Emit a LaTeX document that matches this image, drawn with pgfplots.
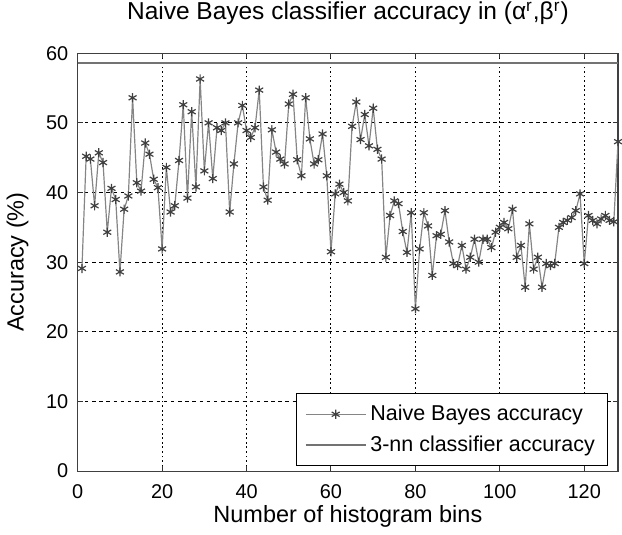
\documentclass[border=0pt]{standalone}
\usepackage{fontspec}
\setmainfont{Liberation Sans}
\usepackage{pgfplots}
\pgfplotsset{compat=1.18}
\definecolor{dataline}{HTML}{858585}
\definecolor{markc}{HTML}{404040}
\definecolor{knnline}{HTML}{737373}
\begin{document}
\begin{tikzpicture}
\begin{axis}[
  scale only axis,
  width=271.5pt, height=210pt,
  xmin=0, xmax=128, ymin=0, ymax=60,
  xtick={0,20,...,120}, ytick={0,10,...,60},
  tick align=inside, major tick length=2.5pt,
  tick style={black!80, line width=0.5pt},
  axis line style={black!75, line width=0.6pt},
  xmajorgrids, ymajorgrids,
  x grid style={black, line width=0.5pt, dash pattern=on 0.9pt off 1.4pt},
  y grid style={black, line width=0.5pt, dash pattern=on 1.8pt off 1.8pt},
  /pgf/number format/assume math mode=true,
  ticklabel style={font=\fontsize{10}{12}\selectfont},
  xticklabel style={yshift=-3.3pt},
  yticklabel style={xshift=-1.2pt},
  xlabel={Number of histogram bins},
  ylabel={Accuracy (\%)},
  xlabel style={font=\fontsize{11.8}{14}\selectfont, yshift=3.5pt},
  ylabel style={font=\fontsize{11.8}{14}\selectfont, yshift=2pt},
  title={Naive Bayes classifier accuracy in (α\textsuperscript{r},β\textsuperscript{r})},
  title style={font=\fontsize{12.3}{14}\selectfont, inner sep=1pt, yshift=7pt},
  legend style={at={(0.982,0.012)}, anchor=south east, draw=black, line width=0.5pt,
    font=\fontsize{10.8}{13}\selectfont, inner xsep=4.5pt, inner ysep=3.8pt,
    row sep=2pt, fill=white},
  legend cell align=left,
  legend image code/.code={%
    \draw[mark repeat=2, mark phase=2] plot coordinates {(0pt,0pt) (15pt,0pt) (30pt,0pt)};},
]
\addplot[dataline, line width=0.6pt, mark=asterisk, mark size=2.3pt,
  mark options={markc, line width=0.6pt}] coordinates {
(1,29.1) (2,45.2) (3,44.8) (4,38.1) (5,45.7) (6,44.3) (7,34.3) (8,40.6) (9,39.0) (10,28.6)
(11,37.6) (12,39.5) (13,53.6) (14,41.4) (15,40.2) (16,47.1) (17,45.5) (18,41.9) (19,40.7) (20,31.9)
(21,43.6) (22,37.2) (23,38.1) (24,44.6) (25,52.6) (26,39.2) (27,51.6) (28,40.8) (29,56.3) (30,43.1)
(31,50.0) (32,42.0) (33,49.3) (34,48.9) (35,50.0) (36,37.2) (37,44.1) (38,50.0) (39,52.5) (40,48.9)
(41,47.9) (42,49.3) (43,54.7) (44,40.8) (45,38.9) (46,49.0) (47,45.8) (48,44.8) (49,44.1) (50,52.7)
(51,54.1) (52,44.7) (53,42.4) (54,53.6) (55,47.7) (56,44.1) (57,44.7) (58,48.4) (59,42.4) (60,31.5)
(61,39.8) (62,41.2) (63,40.0) (64,38.8) (65,49.5) (66,53.0) (67,47.6) (68,51.2) (69,46.7) (70,52.1)
(71,46.2) (72,44.8) (73,30.7) (74,36.7) (75,38.8) (76,38.4) (77,34.4) (78,31.4) (79,37.1) (80,23.3)
(81,31.9) (82,37.1) (83,35.2) (84,28.1) (85,33.8) (86,34.0) (87,37.4) (88,32.9) (89,29.8) (90,29.5)
(91,32.4) (92,29.0) (93,30.7) (94,33.3) (95,30.0) (96,33.3) (97,33.3) (98,32.1) (99,34.3) (100,35.0)
(101,35.7) (102,34.8) (103,37.6) (104,30.7) (105,32.4) (106,26.4) (107,35.5) (108,29.0) (109,30.7) (110,26.4)
(111,29.8) (112,29.5) (113,29.8) (114,35.0) (115,35.7) (116,36.0) (117,36.4) (118,37.4) (119,39.8) (120,29.8)
(121,36.7) (122,36.0) (123,35.5) (124,36.2) (125,36.7) (126,36.0) (127,35.8) (128,47.3)
};
\addlegendentry{Naive Bayes accuracy}
\addplot[knnline, line width=0.8pt] coordinates {(0,58.6) (128,58.6)};
\addlegendentry{3-nn classifier accuracy}
\end{axis}
\end{tikzpicture}
\end{document}
